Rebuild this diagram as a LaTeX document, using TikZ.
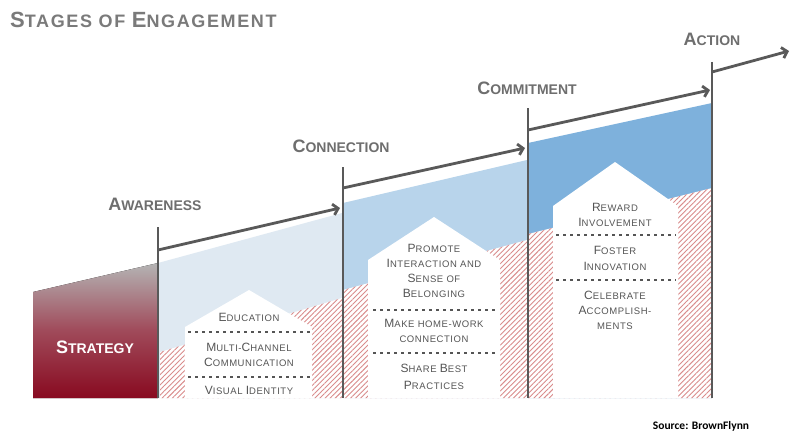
\documentclass[tikz,border=0pt]{standalone}
\usepackage{fontspec}
\setmainfont{Liberation Sans}
\newfontfamily\hfont[LetterSpace=6]{Liberation Sans}
\newfontfamily\tfont[LetterSpace=9]{Liberation Sans}
\newfontfamily\srcfont{Carlito}
\usetikzlibrary{arrows.meta,patterns.meta}
\definecolor{lineg}{HTML}{595959}
\definecolor{awc}{HTML}{DFE9F2}
\definecolor{cnc}{HTML}{B8D4EB}
\definecolor{cmc}{HTML}{7EB1DC}
\definecolor{hatchc}{HTML}{D98C8C}
\definecolor{labg}{HTML}{6E6E6E}
\definecolor{titg}{HTML}{7A7A7A}
\definecolor{txtg}{HTML}{555555}
\definecolor{stTop}{HTML}{B4B4B4}
\definecolor{stMid}{HTML}{A04A5A}
\definecolor{stBot}{HTML}{880A20}
\newcommand\Bg[1]{{\fontsize{12}{12}\selectfont #1}}
\newcommand\Lb[1]{{\fontsize{18}{18}\selectfont #1}}
\newcommand\Tb[1]{{\fontsize{22}{22}\selectfont #1}}
\tikzset{
  hatchfill/.style={fill=white, postaction={pattern={Lines[angle=45,distance=3.6pt,line width=0.9pt]}, pattern color=hatchc}},
  house/.style={fill=white},
  vbar/.style={draw=lineg, line width=2.8pt},
  arr/.style={draw=lineg, line width=2.8pt, -{Straight Barb[length=5pt,width=11pt]}},
  dotrow/.style={draw=txtg, line width=2.5pt, dash pattern=on 2.5pt off 4.5pt},
  ht/.style={anchor=base, inner sep=0pt, text=txtg, font=\hfont\fontsize{9.5}{9.5}\selectfont},
  stage/.style={anchor=base, inner sep=0pt, text=labg, font=\bfseries\fontsize{14}{14}\selectfont},
}
\begin{document}
\begin{tikzpicture}[x=1pt,y=-1pt]
\useasboundingbox[fill=white] (0,0) rectangle (791,433);
% region fills
\fill[top color=stTop, bottom color=stBot, middle color=stMid] (33,292) -- (158,263) -- (158,398) -- (33,398) -- cycle;
\fill[awc] (158,263) -- (342,213) -- (342,398) -- (158,398) -- cycle;
\fill[cnc] (343,203) -- (527,160) -- (527,398) -- (343,398) -- cycle;
\fill[cmc] (528,143) -- (712,103) -- (712,398) -- (528,398) -- cycle;
% hatches
\path[hatchfill] (160,352) -- (342,298) -- (342,398) -- (160,398) -- cycle;
\path[hatchfill] (343,290) -- (527,240) -- (527,398) -- (343,398) -- cycle;
\path[hatchfill] (528,234) -- (712,188) -- (712,398) -- (528,398) -- cycle;
% houses
\fill[house] (185,398) -- (185,327) -- (249,290) -- (312,327) -- (312,398) -- cycle;
\fill[house] (368,398) -- (368,260) -- (434,217) -- (500,260) -- (500,398) -- cycle;
\fill[house] (553,398) -- (553,206) -- (615,162) -- (678,206) -- (678,398) -- cycle;
% vertical bars
\coordinate (v1t) at (158,227); \coordinate (v1b) at (158,398);
\coordinate (v2t) at (343,167); \coordinate (v2b) at (343,398);
\coordinate (v3t) at (528,108); \coordinate (v3b) at (528,398);
\coordinate (v4t) at (712,62);  \coordinate (v4b) at (712,398);
\draw[vbar] (v1t) -- (v1b);
\draw[vbar] (v2t) -- (v2b);
\draw[vbar] (v3t) -- (v3b);
\draw[vbar] (v4t) -- (v4b);
% arrows
\coordinate (a1s) at (158,250); \coordinate (a1e) at (340,208);
\coordinate (a2s) at (343,188); \coordinate (a2e) at (525,148);
\coordinate (a3s) at (528,130); \coordinate (a3e) at (710,90);
\coordinate (a4s) at (712,72);  \coordinate (a4e) at (789,51);
\draw[arr] (a1s) -- (a1e);
\draw[arr] (a2s) -- (a2e);
\draw[arr] (a3s) -- (a3e);
\draw[arr] (a4s) -- (a4e);
% title
\node[anchor=base west, inner sep=0pt, text=titg, font=\tfont\bfseries\fontsize{18}{18}\selectfont] (title) at (10,28) {\Tb{S}TAGES OF \Tb{E}NGAGEMENT};
% stage labels
\node[stage] (lab1) at (155,210) {\Lb{A}WARENESS};
\node[stage] (lab2) at (341,152) {\Lb{C}ONNECTION};
\node[stage] (lab3) at (527,95) {\Lb{C}OMMITMENT};
\node[stage] (lab4) at (712,46) {\Lb{A}CTION};
% strategy
\node[anchor=base, inner sep=0pt, text=white, font=\bfseries\fontsize{14}{14}\selectfont] (strat) at (95,353) {\Lb{S}TRATEGY};
% house 1 text
\node[ht] (e1) at (249,321) {\Bg{E}DUCATION};
\draw[dotrow] (188,332) -- (310,332);
\node[ht] (e2) at (249,351) {\Bg{M}ULTI-\Bg{C}HANNEL};
\node[ht] (e3) at (249,366) {\Bg{C}OMMUNICATION};
\draw[dotrow] (188,377) -- (310,377);
\node[ht] (e4) at (249,394) {\Bg{V}ISUAL \Bg{I}DENTITY};
% house 2 text
\node[ht] (c1) at (434,252) {\Bg{P}ROMOTE};
\node[ht] (c2) at (434,267) {\Bg{I}NTERACTION AND};
\node[ht] (c3) at (434,282) {\Bg{S}ENSE OF};
\node[ht] (c4) at (434,297) {\Bg{B}ELONGING};
\draw[dotrow] (373,310) -- (496,310);
\node[ht] (c5) at (434,327) {\Bg{M}AKE HOME-WORK};
\node[ht] (c6) at (434,342) {CONNECTION};
\draw[dotrow] (373,353) -- (496,353);
\node[ht] (c7) at (434,372) {\Bg{S}HARE \Bg{B}EST};
\node[ht] (c8) at (434,389) {\Bg{P}RACTICES};
% house 3 text
\node[ht] (m1) at (615,211) {\Bg{R}EWARD};
\node[ht] (m2) at (615,226) {\Bg{I}NVOLVEMENT};
\draw[dotrow] (556,235) -- (676,235);
\node[ht] (m3) at (615,254) {\Bg{F}OSTER};
\node[ht] (m4) at (615,270) {\Bg{I}NNOVATION};
\draw[dotrow] (556,280) -- (676,280);
\node[ht] (m5) at (615,299) {\Bg{C}ELEBRATE};
\node[ht] (m6) at (615,314) {\Bg{A}CCOMPLISH-};
\node[ht] (m7) at (615,329) {MENTS};
% source
\node[anchor=base, inner sep=0pt, text=black, font=\srcfont\bfseries\fontsize{11.5}{11.5}\selectfont] (src) at (701,429) {Source: BrownFlynn};
\end{tikzpicture}
\end{document}
